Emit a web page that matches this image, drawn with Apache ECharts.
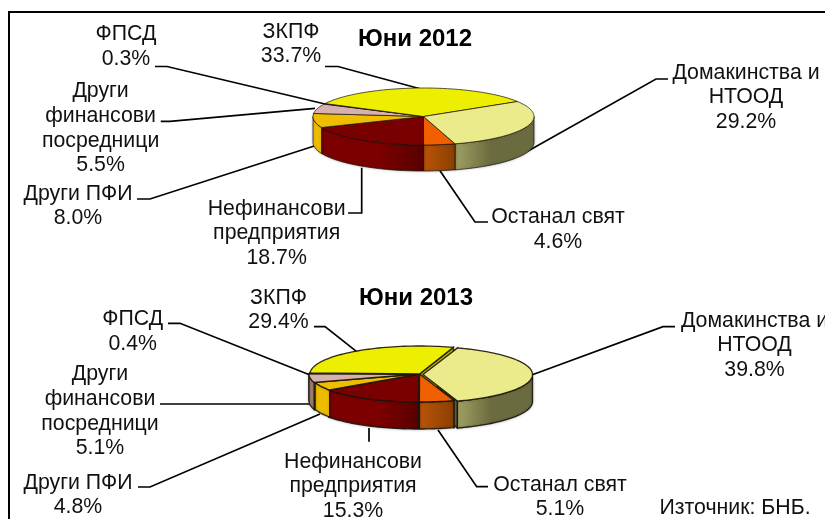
<!DOCTYPE html>
<html>
<head>
<meta charset="utf-8">
<style>html,body{margin:0;padding:0;background:#fff}#main{width:825px;height:519px}</style>
<script src="https://cdn.jsdelivr.net/npm/echarts@6/dist/echarts.min.js"></script>
</head>
<body>
<div id="main"></div>
<script>
var categories = ['Домакинства и\nНТООД', 'Останал свят', 'Нефинансови\nпредприятия', 'Други ПФИ', 'Други\nфинансови\nпосредници', 'ФПСД', 'ЗКПФ'];
var values2012 = [29.2, 4.6, 18.7, 8.0, 5.5, 0.3, 33.7];
var values2013 = [39.8, 5.1, 15.3, 4.8, 5.1, 0.4, 29.4];
var title2012 = 'Юни 2012';
var title2013 = 'Юни 2013';
var sourceText = 'Източник: БНБ.';

// slice colours, same order as categories
var topColors = ['#EBEB8B', '#F06000', '#780000', '#F0BE00', '#D8B0B0', '#8C7060', '#EEEE00'];
var wallColors = [
    ['#A0A064', '#6B6B40'],
    ['#BA5408', '#8A4000'],
    ['#7C0000', '#5A0000'],
    ['#EDBC00', '#EDBC00'],
    ['#A08070', '#A08070'],
    ['#705040', '#705040'],
    ['#B0B000', '#B0B000']
];
// where the wall gradient reaches its second colour held flat: offset of the plateau start / end
var wallStops = [[0, 0.45], [0, 1], [0.55, 1], [0, 1], [0, 1], [0, 1], [0, 1]];

// pie geometry in axis units
var pie2012 = {cx: 423.5, cy: 116.5, rx: 110.5, ry: 28.5, depth: 26, first: 58.3, line: 0.8, explode: [[0, 0], [0, 0], [0, 0], [0, 0], [0, 0], [0, 0], [0, 0]]};
var pie2013 = {cx: 419.5, cy: 374, rx: 109.5, ry: 28, depth: 27, first: 18.4, line: 1.3, explode: [[3.5, 0.5], [0, 0], [-1, 0], [0, 0], [-1, 0], [0, 0], [0, 0]]};

// label block centres and leader lines, same order as categories
var labels2012 = [[746, 97.5], [558, 229.5], [276.7, 233.5], [78, 206], [100.6, 128.5], [126, 46.5], [291, 44]];
var labels2013 = [[754.5, 345.5], [560, 497], [353, 486.5], [78, 495], [100, 411.5], [132.7, 331.5], [278.5, 310]];
var leaders2012 = [
    [[668, 79], [656, 79], [526.7, 151.7]],
    [[488, 222], [475, 222], [440, 170.7]],
    [[348, 213], [361.7, 213], [361.7, 167.7]],
    [[137, 199], [150, 199], [315, 145.7]],
    [[160.7, 121.3], [170, 121.3], [315, 108.3]],
    [[155, 66.5], [167, 66.5], [325, 104]],
    [[325, 66.5], [338, 66.5], [420, 88.7]]
];
var leaders2013 = [
    [[675, 326.7], [663, 326.7], [531.7, 375]],
    [[488, 486.7], [476.7, 486.7], [438, 430]],
    [[369, 428], [369, 441.7]],
    [[138, 487], [150, 487], [320, 414]],
    [[160, 404], [310, 404]],
    [[168, 323.3], [180, 323.3], [310, 375]],
    [[314, 326.7], [325, 326.7], [356.7, 351.7]]
];

var FONT = '21.3px "Liberation Sans", Arial, sans-serif';
var TITLE_FONT = 'bold 24px "Liberation Sans", Arial, sans-serif';

function pointAt(c, r, deg) {
    var a = deg * Math.PI / 180;
    return [c[0] + r[0] * Math.sin(a), c[1] - r[1] * Math.cos(a)];
}

function arcPoints(c, r, from, to) {
    var pts = [];
    var steps = Math.max(2, Math.ceil((to - from) / 2));
    for (var i = 0; i <= steps; i++) {
        pts.push(pointAt(c, r, from + (to - from) * i / steps));
    }
    return pts;
}

function makeRenderItem(values, pie) {
    return function (params, api) {
        var idx = api.value(0);
        var start = pie.first;
        for (var i = 0; i < idx; i++) {
            start += values[i] * 3.6;
        }
        var end = start + api.value(1) * 3.6;
        var centre = api.coord([pie.cx + pie.explode[idx][0], pie.cy + pie.explode[idx][1]]);
        var size = api.size([pie.rx, pie.ry]);
        var depth = api.size([0, pie.depth])[1];
        var children = [];
        var edge = 'rgba(25,20,10,0.9)';

        // radial cut faces, only visible beside an exploded slice
        [start, end].forEach(function (deg) {
            var rim = pointAt(centre, size, deg);
            children.push({
                type: 'polygon',
                z2: 5,
                shape: {points: [centre, rim, [rim[0], rim[1] + depth], [centre[0], centre[1] + depth]]},
                style: {fill: wallColors[idx][1], stroke: edge, lineWidth: pie.line}
            });
        });

        // outer wall on the front half of the ellipse
        var from = Math.max(start, 90);
        var to = Math.min(end, 270);
        if (to > from) {
            var upper = arcPoints(centre, size, from, to);
            var lower = upper.map(function (p) { return [p[0], p[1] + depth]; }).reverse();
            var xs = upper.map(function (p) { return p[0]; });
            var x0 = Math.min.apply(null, xs);
            var x1 = Math.max.apply(null, xs);
            var stops = idx === 2
                ? [{offset: 0, color: wallColors[idx][0]}, {offset: wallStops[idx][0], color: wallColors[idx][0]}, {offset: 1, color: wallColors[idx][1]}]
                : [{offset: 0, color: wallColors[idx][0]}, {offset: wallStops[idx][1], color: wallColors[idx][1]}, {offset: 1, color: wallColors[idx][1]}];
            children.push({
                type: 'polygon',
                z2: 10,
                shape: {points: upper.concat(lower)},
                style: {
                    fill: new echarts.graphic.LinearGradient(x0, 0, x1, 0, stops, true),
                    stroke: edge,
                    lineWidth: pie.line,
                    shadowBlur: 3,
                    shadowColor: 'rgba(0,0,0,0.25)'
                }
            });
        }

        // top face
        children.push({
            type: 'polygon',
            z2: 20 + (idx === 0 ? 1 : 0),
            shape: {points: [centre].concat(arcPoints(centre, size, start, end))},
            style: {fill: topColors[idx], stroke: edge, lineWidth: pie.line}
        });
        return {type: 'group', children: children};
    };
}

function pieSeries(values, pie) {
    return {
        type: 'custom',
        coordinateSystem: 'cartesian2d',
        silent: true,
        clip: false,
        renderItem: makeRenderItem(values, pie),
        encode: {x: 0, y: 1},
        data: values.map(function (v, i) { return [i, v]; })
    };
}

function labelGraphics(values, places, leaders) {
    var out = [];
    for (var i = 0; i < categories.length; i++) {
        out.push({
            type: 'polyline',
            z: 1,
            shape: {points: leaders[i]},
            style: {stroke: '#000', lineWidth: 1.7, fill: null}
        });
        out.push({
            type: 'text',
            z: 30,
            x: places[i][0],
            y: places[i][1],
            style: {
                text: categories[i] + '\n' + values[i].toFixed(1) + '%',
                font: FONT,
                lineHeight: 24.6,
                fill: '#111',
                align: 'center',
                verticalAlign: 'middle'
            }
        });
    }
    return out;
}

var elements = [
    {type: 'rect', z: 0, shape: {x: 9, y: 12, width: 900, height: 600}, style: {fill: '#fff', stroke: '#000', lineWidth: 2}},
    {type: 'text', z: 30, x: 415, y: 39, style: {text: title2012, font: TITLE_FONT, fill: '#000', align: 'center', verticalAlign: 'middle'}},
    {type: 'text', z: 30, x: 416, y: 298, style: {text: title2013, font: TITLE_FONT, fill: '#000', align: 'center', verticalAlign: 'middle'}},
    {type: 'text', z: 30, x: 735, y: 508, style: {text: sourceText, font: FONT, fill: '#111', align: 'center', verticalAlign: 'middle'}}
].concat(labelGraphics(values2012, labels2012, leaders2012), labelGraphics(values2013, labels2013, leaders2013));

var chart = echarts.init(document.getElementById('main'), null, {renderer: 'canvas'});
chart.setOption({
    animation: false,
    backgroundColor: '#fff',
    grid: {left: 0, right: 0, top: 0, bottom: 0},
    xAxis: {type: 'value', min: 0, max: 825, show: false},
    yAxis: {type: 'value', min: 0, max: 519, inverse: true, show: false},
    graphic: {elements: elements},
    series: [pieSeries(values2012, pie2012), pieSeries(values2013, pie2013)]
});
</script>
</body>
</html>
